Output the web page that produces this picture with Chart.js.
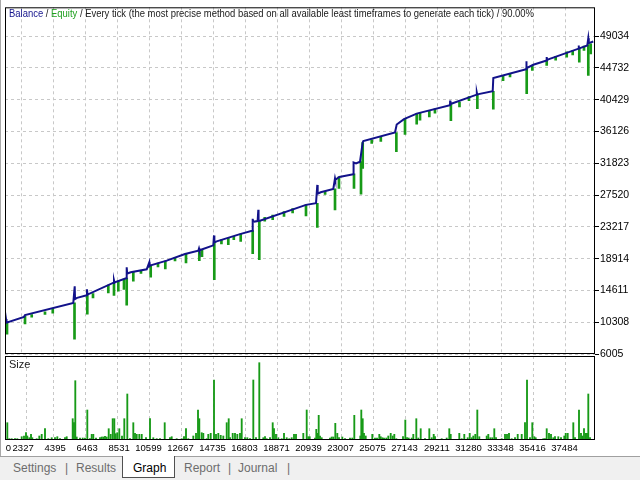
<!DOCTYPE html>
<html>
<head>
<meta charset="utf-8">
<script src="https://cdn.jsdelivr.net/npm/chart.js@4.4.1/dist/chart.umd.min.js"></script>
<style>
  body { margin: 0; width: 640px; height: 480px; position: relative; background: #fff; overflow: hidden; font-family: "Liberation Sans", Arial, sans-serif; }
  .box { position: absolute; left: 0; width: 640px; }
  #legend { position: absolute; left: 9px; top: 7px; font-size: 11px; white-space: nowrap; color: #202020; transform-origin: 0 0; font-family: "Liberation Sans Narrow", "Liberation Sans", sans-serif; }
  #sizeLabel { position: absolute; left: 9px; top: 358px; font-size: 11px; color: #202020; font-family: "Liberation Sans Narrow", "Liberation Sans", sans-serif; }
  #tabs { position: absolute; left: 0; top: 456px; width: 640px; height: 24px; background: #f0f0f0; border-top: 1px solid #a0a0a0; box-sizing: border-box; font-size: 12px; color: #6d6d6d; }
  #tabs span { position: absolute; top: 4px; }
  #graphTab { position: absolute; left: 122px; top: -1px; width: 51px; height: 21px; background: #fff; border: 1px solid #505050; border-top: none; }
  #leftEdge { position: absolute; left: 0; top: 0; width: 1px; height: 456px; background: #a8a8a8; }
</style>
</head>
<body>
<div class="box" style="top:0; height:362px"><canvas id="mainChart"></canvas></div>
<div class="box" style="top:350px; height:106px"><canvas id="sizeChart"></canvas></div>
<div id="leftEdge"></div>
<div id="legend"><span style="color:#14148c">Balance</span> / <span style="color:#20a020">Equity</span> / Every tick (the most precise method based on all available least timeframes to generate each tick) / 90.00%</div>
<div id="sizeLabel">Size</div>
<div id="tabs">
  <div id="graphTab"></div>
  <span style="left:13px">Settings</span>
  <span style="left:65px">|</span>
  <span style="left:76px">Results</span>
  <span style="left:133px; color:#000">Graph</span>
  <span style="left:184px">Report</span>
  <span style="left:228px">|</span>
  <span style="left:238px">Journal</span>
  <span style="left:287px">|</span>
</div>
<script>
// axis ranges and tick labels
const xMin = 213;
const xMax = 38342;
const xTickValues = [0, 2327, 4395, 6463, 8531, 10599, 12667, 14735, 16803, 18871, 20939, 23007, 25075, 27143, 29211, 31280, 33348, 35416, 37484];
const yMin = 6005;
const yMax = 52946;
const yTickValues = [6005, 10308, 14611, 18914, 23217, 27520, 31823, 36126, 40429, 44732, 49034];

// balance curve (trade number, balance)
const balanceX = [246, 278, 310, 1441, 1506, 4627, 4718, 4740, 4866, 5493, 5512, 5545, 7193, 7257, 7290, 8033, 8078, 8110, 8337, 9371, 9539, 9560, 9629, 10663, 11846, 12705, 12751, 12783, 13675, 13720, 13745, 13894, 15400, 16176, 16221, 16250, 16540, 16583, 16600, 16693, 19665, 20312, 20396, 20420, 20615, 21430, 21540, 21560, 21817, 22722, 22740, 22897, 23155, 23330, 23369, 25417, 25527, 25999, 26819, 28971, 28980, 29003, 30697, 30705, 30729, 31731, 31770, 33883, 33900, 33928, 34354, 35210, 35221, 35240, 35325, 37280, 37289, 37300, 37373, 37844, 37909, 37940, 38232];
const balanceY = [10227, 10727, 10254, 11037, 11266, 12925, 15178, 13450, 13600, 13964, 14774, 14050, 15623, 15988, 15700, 16257, 17741, 16900, 17067, 17472, 18416, 17900, 18011, 18645, 19535, 19994, 20304, 20050, 20709, 22058, 21100, 21249, 22233, 22692, 24311, 23900, 24000, 25525, 24041, 24041, 26199, 26415, 28897, 27700, 27899, 28358, 29788, 29600, 29977, 30327, 31946, 31811, 32041, 34644, 34833, 35993, 37072, 37801, 38556, 39690, 40310, 39850, 41119, 41389, 41150, 41578, 43372, 44546, 45625, 44700, 45166, 45750, 46205, 45800, 45895, 47350, 47784, 47400, 47419, 47784, 48768, 48100, 48323];

// equity drawdown spikes (trade number, lowest equity, balance at that moment)
const dipX = [343, 1506, 1939, 2798, 3300, 4705, 5532, 5900, 6889, 7257, 7536, 7903, 8078, 8505, 9000, 9629, 10100, 10573, 11200, 11910, 12770, 12944, 13739, 14200, 14644, 15000, 15445, 16221, 16647, 17000, 17513, 18244, 18800, 19665, 20396, 20900, 21540, 21796, 22767, 23220, 23330, 23912, 24500, 25505, 26064, 26819, 27033, 27635, 28000, 29028, 29584, 30200, 30739, 31770, 32400, 32849, 33928, 34290, 35221, 35800, 36514, 36900, 37327, 37631, 37909, 38064];
const dipLow = [8703, 10092, 11000, 11361, 11550, 8029, 11401, 13600, 14274, 13924, 14504, 14733, 12615, 15853, 16900, 16392, 17800, 17512, 18600, 18321, 18645, 19185, 16082, 20900, 20803, 21500, 21249, 19589, 18780, 24000, 24176, 24621, 25100, 24716, 23137, 27600, 25525, 28439, 28439, 27630, 31137, 34509, 34800, 33390, 35724, 37127, 37667, 38111, 38600, 37612, 39460, 40300, 39230, 39149, 43000, 43507, 41254, 44411, 45085, 45800, 46205, 46500, 45530, 47108, 43738, 46650];
const dipHigh = [10227, 11100, 11350, 11700, 12150, 12925, 13964, 14200, 15330, 15700, 15900, 16150, 16300, 17130, 17350, 18011, 18300, 18600, 19100, 19560, 20000, 20100, 21100, 21450, 21650, 21950, 22250, 22700, 24041, 24500, 24800, 25300, 25700, 26199, 26415, 28000, 28358, 29977, 30400, 32041, 34644, 35000, 35400, 35993, 37801, 38556, 38650, 38950, 39200, 39800, 40100, 40850, 41150, 41578, 43700, 43900, 44700, 45100, 45700, 46300, 46900, 47100, 47419, 47700, 47900, 48000];

// position size per trade
const sizeX = [362, 491, 646, 860, 1008, 1293, 1441, 1570, 1654, 1784, 1894, 1978, 2262, 2430, 2585, 2798, 3011, 3231, 3444, 3593, 3768, 4091, 4201, 4588, 4672, 4756, 4847, 5060, 5235, 5383, 5532, 5706, 5816, 5920, 6094, 6353, 6463, 6566, 6676, 6786, 6915, 7044, 7173, 7277, 7367, 7471, 7600, 7774, 7923, 8117, 8291, 8505, 8614, 8724, 8892, 9048, 9325, 9584, 9797, 10017, 10230, 10534, 10876, 10986, 11309, 11633, 11781, 11910, 12059, 12382, 12557, 12686, 12770, 12925, 13028, 13248, 13351, 13507, 13720, 13849, 13998, 14153, 14321, 14541, 14670, 14754, 14928, 15077, 15226, 15400, 15510, 15723, 15872, 16046, 16260, 16434, 16647, 16906, 17016, 17126, 17339, 17513, 17597, 17727, 17875, 18095, 18244, 18418, 18586, 18741, 18890, 19019, 19491, 19711, 19814, 19905, 20247, 20331, 20422, 20486, 20570, 20680, 21216, 21326, 21430, 21559, 21688, 21798, 22011, 22186, 22509, 22657, 22787, 23175, 23239, 23330, 23413, 23524, 23950, 24124, 24254, 24403, 24493, 24596, 24706, 24855, 24984, 25139, 25268, 25372, 25501, 25934, 26083, 26193, 26302, 26496, 26600, 26794, 26923, 27078, 27356, 27634, 27789, 27918, 28002, 28435, 28758, 28926, 29017, 29572, 29728, 29895, 30115, 30245, 30374, 30477, 30606, 30736, 30865, 31343, 31447, 31576, 31705, 31834, 31944, 32313, 32526, 32655, 32784, 32959, 33172, 33347, 33605, 33818, 33948, 34141, 34290, 34419, 34510, 35001, 35111, 35221, 35369, 35499, 35647, 35757, 35970, 36145, 36358, 36449, 36578, 36940, 37049, 37308, 37437, 37521, 37631, 37741, 37825, 37909, 38019];
const sizeY = [0.173, 0.013, 0.013, 0.013, 0.013, 0.033, 0.04, 0.073, 0.04, 0.023, 0.057, 0.023, 0.013, 0.04, 0.057, 0.113, 0.013, 0.023, 0.023, 0.033, 0.013, 0.023, 0.033, 0.213, 0.173, 0.593, 0.03, 0.02, 0.02, 0.02, 0.30, 0.013, 0.057, 0.057, 0.02, 0.023, 0.03, 0.03, 0.037, 0.03, 0.113, 0.057, 0.213, 0.213, 0.063, 0.073, 0.113, 0.04, 0.213, 0.46, 0.013, 0.173, 0.067, 0.057, 0.057, 0.057, 0.023, 0.213, 0.023, 0.013, 0.013, 0.173, 0.023, 0.033, 0.013, 0.013, 0.033, 0.113, 0.013, 0.04, 0.067, 0.30, 0.213, 0.073, 0.067, 0.013, 0.057, 0.067, 0.60, 0.057, 0.067, 0.047, 0.04, 0.173, 0.213, 0.023, 0.067, 0.067, 0.057, 0.067, 0.213, 0.023, 0.023, 0.013, 0.60, 0.023, 0.773, 0.023, 0.033, 0.013, 0.023, 0.173, 0.113, 0.057, 0.023, 0.013, 0.067, 0.023, 0.013, 0.023, 0.057, 0.057, 0.067, 0.30, 0.033, 0.033, 0.02, 0.107, 0.067, 0.247, 0.04, 0.023, 0.02, 0.03, 0.03, 0.167, 0.067, 0.023, 0.03, 0.013, 0.02, 0.02, 0.247, 0.04, 0.30, 0.213, 0.067, 0.04, 0.057, 0.02, 0.02, 0.057, 0.033, 0.023, 0.02, 0.02, 0.04, 0.067, 0.04, 0.057, 0.013, 0.033, 0.20, 0.023, 0.02, 0.02, 0.057, 0.213, 0.02, 0.113, 0.013, 0.113, 0.023, 0.057, 0.033, 0.013, 0.02, 0.113, 0.057, 0.067, 0.013, 0.057, 0.023, 0.067, 0.023, 0.04, 0.057, 0.30, 0.033, 0.04, 0.057, 0.023, 0.023, 0.113, 0.023, 0.013, 0.057, 0.057, 0.067, 0.013, 0.023, 0.057, 0.057, 0.173, 0.60, 0.023, 0.173, 0.033, 0.023, 0.013, 0.013, 0.113, 0.067, 0.057, 0.023, 0.033, 0.033, 0.023, 0.04, 0.067, 0.067, 0.173, 0.023, 0.30, 0.067, 0.04, 0.113, 0.067, 0.067, 0.46, 0.023];

const gridColor = "#c8c8c8";
const tickFont = { family: "'Liberation Sans Narrow', 'Liberation Sans', sans-serif" };

// black frame round each panel
const framePlugin = {
  id: "frame",
  afterDraw(chart) {
    const a = chart.chartArea;
    const ctx = chart.ctx;
    ctx.save();
    ctx.strokeStyle = "#000";
    ctx.lineWidth = 1;
    ctx.strokeRect(a.left + 0.5, a.top + 0.5, a.right - a.left - 1, a.bottom - a.top - 1);
    ctx.restore();
  },
};

new Chart(document.getElementById("mainChart"), {
  type: "line",
  data: {
    datasets: [
      {
        label: "Balance",
        data: balanceX.map((x, i) => ({ x: x, y: balanceY[i] })),
        borderColor: "#12128a",
        borderWidth: 2,
        pointRadius: 0,
        tension: 0,
        order: 0,
      },
      {
        type: "bar",
        label: "Equity",
        data: dipX.map((x, i) => ({ x: x, y: [dipLow[i], dipHigh[i]] })),
        backgroundColor: "#179a17",
        barThickness: 2,
        borderWidth: 0,
        order: 1,
      },
    ],
  },
  options: {
    responsive: true,
    maintainAspectRatio: false,
    animation: false,
    layout: { padding: { left: 5, top: 5, right: 0, bottom: 8 } },
    plugins: { legend: { display: false }, tooltip: { enabled: false } },
    scales: {
      x: {
        type: "linear",
        min: xMin,
        max: xMax,
        offset: false,
        afterBuildTicks: (s) => { s.ticks = xTickValues.slice(1).map((v) => ({ value: v })); },
        afterFit: (s) => { s.height = 0; },
        ticks: { display: false },
        grid: { color: gridColor, drawTicks: false },
        border: { display: false, dash: [3, 3] },
      },
      y: {
        position: "right",
        min: yMin,
        max: yMax,
        afterBuildTicks: (s) => { s.ticks = yTickValues.map((v) => ({ value: v })); },
        afterFit: (s) => { s.width = 45; },
        ticks: { color: "#000", padding: 1, font: { ...tickFont, size: 10.5 }, callback: (v) => String(v) },
        grid: { color: gridColor, tickColor: "#000", tickLength: 4, tickBorderDash: [] },
        border: { display: false, dash: [3, 3] },
      },
    },
  },
  plugins: [framePlugin],
});

new Chart(document.getElementById("sizeChart"), {
  type: "line",
  data: {
    datasets: [
      {
        type: "bar",
        label: "Size",
        data: sizeX.map((x, i) => ({ x: x, y: sizeY[i] })),
        backgroundColor: "#179a17",
        barThickness: 1.2,
        borderWidth: 0,
      },
    ],
  },
  options: {
    responsive: true,
    maintainAspectRatio: false,
    animation: false,
    layout: { padding: { left: 5, top: 6, right: 45, bottom: 0 } },
    plugins: { legend: { display: false }, tooltip: { enabled: false } },
    scales: {
      x: {
        type: "linear",
        min: xMin,
        max: xMax,
        offset: false,
        // the "0" label sits just inside the left edge of the panel
        afterBuildTicks: (s) => { s.ticks = xTickValues.map((v) => ({ value: Math.max(v, xMin + 650) })); },
        afterFit: (s) => { s.height = 16; },
        ticks: {
          color: "#000",
          align: "end",
          labelOffset: -4,
          padding: 3,
          maxRotation: 0,
          autoSkip: false,
          font: { ...tickFont, size: 9.5 },
          callback: (v, i) => String(xTickValues[i]),
        },
        grid: { color: (c) => (c.index === 0 ? "rgba(0,0,0,0)" : gridColor), drawTicks: false },
        border: { display: false, dash: [3, 3] },
      },
      y: { display: false, min: 0, max: 0.84 },
    },
  },
  plugins: [framePlugin],
});

// squeeze the header line to the width it has in the tester window
const legend = document.getElementById("legend");
legend.style.transform = "scaleX(" + (525 / legend.getBoundingClientRect().width) + ")";
</script>
</body>
</html>
